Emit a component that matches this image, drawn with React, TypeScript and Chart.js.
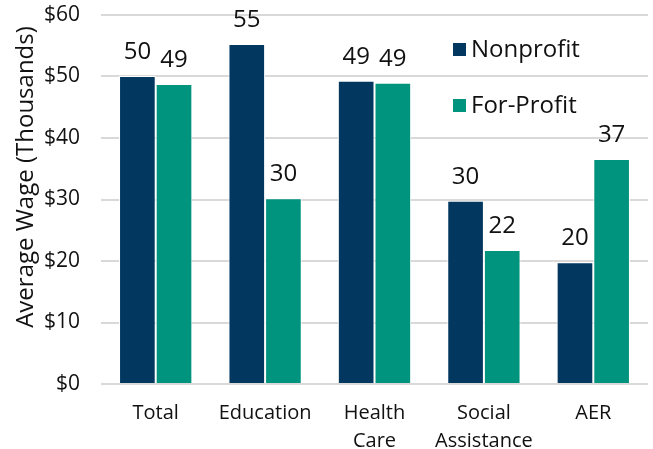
import React, { useEffect, useRef } from "react";
import { Chart, registerables } from "chart.js";

Chart.register(...registerables);

const categories: (string | string[])[] = ["Total", "Education", ["Health", "Care"], ["Social", "Assistance"], "AER"];
const nonprofit = [50.1, 55.3, 49.3, 29.8, 19.8];
const forProfit = [48.8, 30.2, 49.0, 21.8, 36.6];
const yTicks = [0, 10, 20, 30, 40, 50, 60];
const yTitle = "Average Wage (Thousands)";
const legendItems = ["Nonprofit", "For-Profit"];

const NAVY = "#02375f";
const TEAL = "#00937e";
const FONT = "'Open Sans', sans-serif";

const labelPlugin = {
  id: "barLabels",
  afterDatasetsDraw(chart: any) {
    const ctx = chart.ctx;
    ctx.save();
    ctx.fillStyle = "#111";
    ctx.font = `24px ${FONT}`;
    ctx.textAlign = "center";
    ctx.textBaseline = "alphabetic";
    chart.data.datasets.forEach((ds: any, i: number) => {
      const meta = chart.getDatasetMeta(i);
      meta.data.forEach((bar: any, j: number) => {
        ctx.fillText(String(Math.round(ds.data[j])), bar.x, bar.y - 17);
      });
    });
    ctx.restore();
  },
};

const extrasPlugin = {
  id: "extras",
  afterDraw(chart: any) {
    const ctx = chart.ctx;
    ctx.save();
    // legend
    ctx.font = `24px ${FONT}`;
    ctx.textBaseline = "alphabetic";
    ctx.textAlign = "left";
    const colors = [NAVY, TEAL];
    const ys = [57, 113];
    legendItems.forEach((label, i) => {
      ctx.fillStyle = colors[i];
      ctx.fillRect(453, ys[i] - 14, 13, 13);
      ctx.fillStyle = "#111";
      ctx.fillText(label, 471, ys[i]);
    });
    // y title
    ctx.font = `24px ${FONT}`;
    ctx.fillStyle = "#111";
    ctx.textAlign = "center";
    ctx.translate(33, 177);
    ctx.rotate(-Math.PI / 2);
    ctx.fillText(yTitle, 0, 0);
    ctx.restore();
  },
};

export default function App() {
  const ref = useRef<HTMLCanvasElement>(null);
  useEffect(() => {
    document.body.style.margin = "0";
    const chart = new Chart(ref.current!, {
      type: "bar",
      data: {
        labels: categories as any,
        datasets: [
          { label: legendItems[0], data: nonprofit, backgroundColor: NAVY, borderColor: "#ffffff", borderWidth: 1 },
          { label: legendItems[1], data: forProfit, backgroundColor: TEAL, borderColor: "#ffffff", borderWidth: 1 },
        ],
      },
      options: {
        animation: false,
        responsive: false,
        maintainAspectRatio: false,
        layout: { padding: { top: 15, right: 5, bottom: 0, left: 0 } },
        plugins: { legend: { display: false }, tooltip: { enabled: false } },
        datasets: { bar: { categoryPercentage: 0.67, barPercentage: 1.0 } },
        scales: {
          x: {
            grid: { display: false },
            border: { display: false },
            ticks: { color: "#111", font: { family: FONT, size: 20, lineHeight: 1.4 }, padding: 7, maxRotation: 0 },
            afterFit: (axis: any) => {
              axis.height = 65;
            },
          },
          y: {
            min: 0,
            max: 60,
            afterBuildTicks: (axis: any) => {
              axis.ticks = yTicks.map((v) => ({ value: v }));
            },
            grid: { color: "#d9d9d9", lineWidth: 2, drawTicks: false },
            border: { display: false },
            ticks: {
              color: "#111",
              font: { family: FONT, size: 21 },
              padding: 21,
              callback: (v: any) => "$" + v,
            },
            afterFit: (axis: any) => {
              axis.width = 101;
              axis.paddingTop = 0;
              axis.paddingBottom = 0;
            },
          },
        },
      },
      plugins: [labelPlugin, extrasPlugin],
    });
    return () => chart.destroy();
  }, []);
  return <canvas ref={ref} width={653} height={449} style={{ display: "block" }} />;
}
